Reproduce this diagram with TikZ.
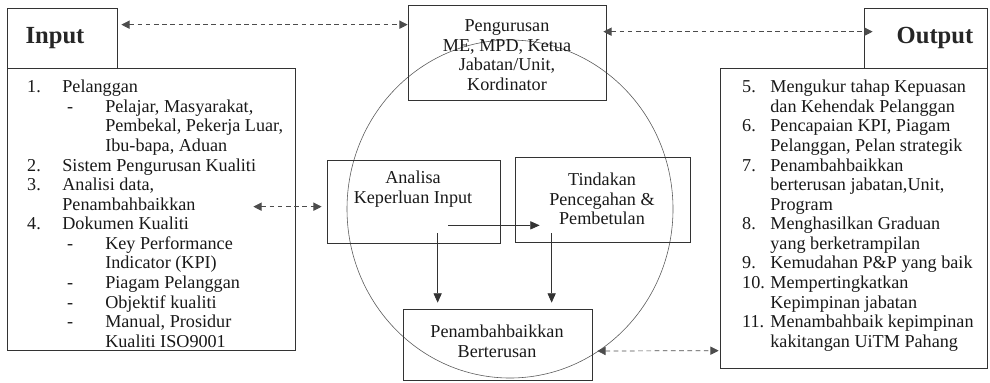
\documentclass[tikz,border=0pt]{standalone}
\usepackage{fontspec}
\setmainfont{Liberation Serif}
\usetikzlibrary{calc, positioning, arrows.meta}
\newcommand{\itm}[3][30pt]{\makebox[#1][l]{#2}#3}
\newcommand{\subitm}[2]{\hspace*{30pt}\makebox[36.6pt][l]{\hspace{4pt}#1}#2}

\begin{document}
\begin{tikzpicture}[x=0.03cm, y=-0.03cm,
  box/.style={draw=black!80, line width=0.6pt, inner sep=0pt},
  wh/.style 2 args={minimum width=#1*0.03cm, minimum height=#2*0.03cm},
  txt/.style={inner sep=0pt, align=center, text=black!90, font=\fontsize{15.5}{16.7}\selectfont},
  lst/.style={txt, align=left, anchor=north west},
  ttl/.style={inner sep=0pt, text=black!85, font=\fontsize{21}{24}\selectfont\bfseries},
  ring/.style={draw=black!65, line width=0.5pt},
  dasharr/.style={draw=black!70, line width=0.6pt, dash pattern=on 4pt off 3pt,
    {Triangle[length=7pt,width=7pt]}-{Triangle[length=7pt,width=7pt]}},
  arr/.style={draw=black!80, line width=0.7pt, -{Triangle[length=8pt,width=7pt]}}]
\useasboundingbox (0,0) rectangle (990,382);
\draw[ring] (510,209) ellipse [x radius=163, y radius=169];
\node[box, wh={110}{60}] (inp) at (62,38) {};
\node[box, wh={288}{282}] (inlist) at (151,209) {};
\node[box, wh={198}{95}] (peng) at (507,52.5) {};
\node[box, wh={123}{60}] (outp) at (925.5,38) {};
\node[box, wh={267}{300}] (outlist) at (853.5,218) {};
\node[box, wh={173}{83}] (anal) at (413.5,201.5) {};
\node[box, wh={175}{85}] (tind) at (602.5,199.5) {};
\node[box, wh={189}{71}] (pen) at (497.5,344.5) {};
\node[ttl] (inptxt) at (55,38) {Input};
\node[ttl] (outptxt) at (935,38) {Output};
\node[txt] (pengtxt) at (507,55) {Pengurusan\\ME, MPD, Ketua\\Jabatan/Unit,\\Kordinator};
\node[txt] (analtxt) at (413,189) {Analisa\\Keperluan Input};
\node[txt] (tindtxt) at (602,199) {Tindakan\\Pencegahan \&\\Pembetulan};
\node[txt] (pentxt) at (497,341) {Penambahbaikkan\\Berterusan};
\node[lst] (inlisttxt) at (27,80) {\itm{1.}{Pelanggan}\\
  \subitm{-}{Pelajar, Masyarakat,}\\
  \subitm{}{Pembekal, Pekerja Luar,}\\
  \subitm{}{Ibu-bapa, Aduan}\\
  \itm{2.}{Sistem Pengurusan Kualiti}\\
  \itm{3.}{Analisi data,}\\
  \itm{}{Penambahbaikkan}\\
  \itm{4.}{Dokumen Kualiti}\\
  \subitm{-}{Key Performance}\\
  \subitm{}{Indicator (KPI)}\\
  \subitm{-}{Piagam Pelanggan}\\
  \subitm{-}{Objektif kualiti}\\
  \subitm{-}{Manual, Prosidur}\\
  \subitm{}{Kualiti ISO9001}};
\node[lst] (outlisttxt) at (742,80) {\itm[24pt]{5.}{Mengukur tahap Kepuasan}\\
  \itm[24pt]{}{dan Kehendak Pelanggan}\\
  \itm[24pt]{6.}{Pencapaian KPI, Piagam}\\
  \itm[24pt]{}{Pelanggan, Pelan strategik}\\
  \itm[24pt]{7.}{Penambahbaikkan}\\
  \itm[24pt]{}{berterusan jabatan,Unit,}\\
  \itm[24pt]{}{Program}\\
  \itm[24pt]{8.}{Menghasilkan Graduan}\\
  \itm[24pt]{}{yang berketrampilan}\\
  \itm[24pt]{9.}{Kemudahan P\&P yang baik}\\
  \itm[24pt]{10.}{Mempertingkatkan}\\
  \itm[24pt]{}{Kepimpinan jabatan}\\
  \itm[24pt]{11.}{Menambahbaik kepimpinan}\\
  \itm[24pt]{}{kakitangan UiTM Pahang}};
\draw[dasharr] ($(inp.north east)+(4,17)$) -- ($(peng.north west)+(0,20)$);
\draw[dasharr] ($(peng.north east)+(-3,27)$) -- ($(outp.north west)+(9,24)$);
\draw[dasharr] ($(inlist.north east)+(-42,139)$) -- ($(anal.north west)+(-5,47)$);
\draw[dasharr] ($(pen.east)+(5,6.5)$) -- ($(outlist.north west)+(-1,283)$);
\draw[arr] ($(anal.south east)+(-52,-18)$) -- ($(tind.south west)+(25,-17)$);
\draw[arr] ($(anal.south west)+(111,-10)$) -- ($(pen.north west)+(35,-6)$);
\draw[arr] ($(tind.south west)+(37,-9)$) -- ($(pen.north west)+(149,-6)$);
\end{tikzpicture}
\end{document}
